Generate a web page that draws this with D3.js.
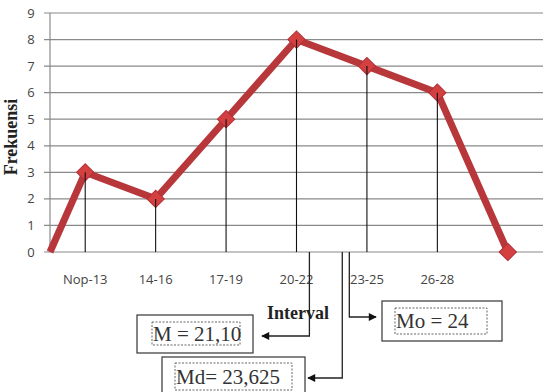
<!DOCTYPE html>
<html>
<head>
<script src="https://cdn.jsdelivr.net/npm/d3@7"></script>
<style>
  html, body { margin: 0; padding: 0; background: #fff; }
  svg { display: block; }
</style>
</head>
<body>
<script>
var w = 543, h = 392;

// class marks (x) and frequencies, polygon closed with zero points
var classMarks = [10.5, 12, 15, 18, 21, 24, 27, 30];
var frekuensi  = [0, 3, 2, 5, 8, 7, 6, 0];
var tickMarks  = [12, 15, 18, 21, 24, 27];
var tickLabels = ["Nop-13", "14-16", "17-19", "20-22", "23-25", "26-28"];
var yTicks     = [0, 1, 2, 3, 4, 5, 6, 7, 8, 9];

// mean / median / mode labels and where their pointer lines leave the axis
var statLabels = ["M = 21,10", "Md= 23,625", "Mo = 24"];
var statPointX = [21.55, 22.95, 23.25];

var x = d3.scaleLinear().domain([10.5, 31.5]).range([50, 543]);
var y = d3.scaleLinear().domain([0, 9]).range([252, 13]);

var svg = d3.select("body").append("svg").attr("width", w).attr("height", h);

// grid lines + y ticks
svg.append("g").selectAll("line").data(yTicks).enter().append("line")
  .attr("x1", 44).attr("x2", w)
  .attr("y1", function(d){ return y(d); })
  .attr("y2", function(d){ return y(d); })
  .attr("stroke", "#8a8a8a").attr("stroke-width", 1.2);

svg.append("line")
  .attr("x1", x(10.5)).attr("x2", x(10.5))
  .attr("y1", y(9)).attr("y2", y(0))
  .attr("stroke", "#8a8a8a").attr("stroke-width", 1.2);

svg.append("g").selectAll("text").data(yTicks).enter().append("text")
  .attr("x", 31).attr("y", function(d){ return y(d); })
  .attr("dy", "0.35em")
  .attr("text-anchor", "middle")
  .attr("font-family", "Open Sans, sans-serif")
  .attr("font-size", 13)
  .attr("fill", "#444")
  .text(function(d){ return d; });

// category labels
svg.append("g").selectAll("text").data(tickMarks).enter().append("text")
  .attr("x", function(d){ return x(d); })
  .attr("y", 279).attr("dy", "0.35em")
  .attr("text-anchor", "middle")
  .attr("font-family", "Open Sans, sans-serif")
  .attr("font-size", 13)
  .attr("fill", "#444")
  .text(function(d, i){ return tickLabels[i]; });

// axis titles
svg.append("text")
  .attr("transform", "translate(11,137) rotate(-90)")
  .attr("text-anchor", "middle").attr("dy", "0.35em")
  .attr("font-family", "Liberation Serif, serif")
  .attr("font-weight", "bold").attr("font-size", 18)
  .attr("fill", "#222")
  .text("Frekuensi");

svg.append("text")
  .attr("x", 298).attr("y", 313).attr("dy", "0.35em")
  .attr("text-anchor", "middle")
  .attr("font-family", "Liberation Serif, serif")
  .attr("font-weight", "bold").attr("font-size", 18)
  .attr("fill", "#222")
  .text("Interval");

var pts = classMarks.map(function(d, i){ return {x: d, f: frekuensi[i]}; });

// frequency polygon
var line = d3.line().x(function(d){ return x(d.x); }).y(function(d){ return y(d.f); });
svg.append("path").datum(pts)
  .attr("d", line)
  .attr("fill", "none")
  .attr("stroke", "#b7373a")
  .attr("stroke-width", 7)
  .attr("stroke-linejoin", "miter");

svg.append("g").selectAll("path").data(pts.slice(1)).enter().append("path")
  .attr("transform", function(d){ return "translate(" + x(d.x) + "," + y(d.f) + ") rotate(45)"; })
  .attr("d", d3.symbol().type(d3.symbolSquare).size(150))
  .attr("fill", "#d3403f")
  .attr("stroke", "#b3303a").attr("stroke-width", 1);

// drop lines from each point
svg.append("g").selectAll("line").data(pts.filter(function(d){ return d.f > 0; }))
  .enter().append("line")
  .attr("x1", function(d){ return x(d.x); }).attr("x2", function(d){ return x(d.x); })
  .attr("y1", function(d){ return y(d.f); }).attr("y2", y(0))
  .attr("stroke", "#111").attr("stroke-width", 1.1);

// stat boxes
var boxes = [
  {x: 137, y: 315, w: 116, h: 38, ix: 152, iy: 322, iw: 88, ih: 23},
  {x: 162, y: 357, w: 143, h: 40, ix: 175, iy: 363, iw: 117, ih: 27},
  {x: 382, y: 301, w: 120, h: 40, ix: 395, iy: 308, iw: 92, ih: 26}
];

var defs = svg.append("defs");
defs.append("marker").attr("id", "arr")
  .attr("viewBox", "0 0 10 10").attr("refX", 9).attr("refY", 5)
  .attr("markerWidth", 10).attr("markerHeight", 8).attr("orient", "auto")
  .attr("markerUnits", "userSpaceOnUse")
  .append("path").attr("d", "M0,0L10,5L0,10z").attr("fill", "#111");

var bg = svg.append("g").selectAll("g").data(boxes).enter().append("g");
bg.append("rect")
  .attr("x", function(d){ return d.x; }).attr("y", function(d){ return d.y; })
  .attr("width", function(d){ return d.w; }).attr("height", function(d){ return d.h; })
  .attr("fill", "#fff").attr("stroke", "#444").attr("stroke-width", 1.3);
bg.append("rect")
  .attr("x", function(d){ return d.ix; }).attr("y", function(d){ return d.iy; })
  .attr("width", function(d){ return d.iw; }).attr("height", function(d){ return d.ih; })
  .attr("fill", "none").attr("stroke", "#666").attr("stroke-width", 1)
  .attr("stroke-dasharray", "2,1.5");
bg.append("text")
  .attr("x", function(d){ return d.ix + 1; })
  .attr("y", function(d){ return d.iy + d.ih / 2; })
  .attr("dy", "0.35em").attr("text-anchor", "start")
  .attr("font-family", "Liberation Serif, serif")
  .attr("font-size", 21).attr("fill", "#333")
  .text(function(d, i){ return statLabels[i]; });

// pointer lines from axis to boxes
var arrowEnds = [
  {y: 336, tx: 262},
  {y: 378, tx: 308},
  {y: 317, tx: 376}
];
svg.append("g").selectAll("path").data(statPointX).enter().append("path")
  .attr("d", function(d, i){
    var px = x(d), a = arrowEnds[i];
    return "M" + px + "," + y(0) + "V" + a.y + "H" + a.tx;
  })
  .attr("fill", "none").attr("stroke", "#222").attr("stroke-width", 1.3)
  .attr("marker-end", "url(#arr)");
</script>
</body>
</html>
